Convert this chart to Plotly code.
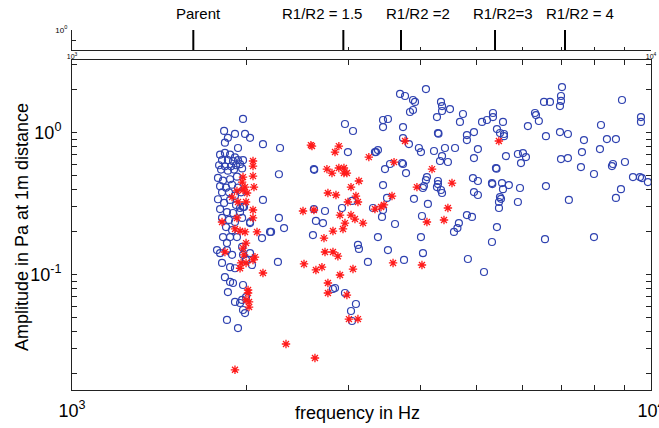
import math
import plotly.graph_objects as go

# ---------------- data ----------------
blue_freq = [
    1974, 1831, 1912, 1990, 2030, 2137, 1859, 1837, 1935,
    1802, 1837, 1875, 1912, 1816, 1859, 1897, 1935, 1795, 1837, 1882, 1920, 1809, 1859, 1905, 1951, 1974,
    1967, 1787, 1823, 1875, 1927, 1802, 1845, 1890, 1935, 1816, 1867, 1912, 1959,
    1787, 1831, 1875, 1920, 1982, 1802, 1852, 1897, 1951, 1816, 1867, 1912, 1967, 2030, 1845, 1890, 1974, 1951,
    2137, 2030, 2129, 2198, 1823, 1875, 1927, 1852, 1780, 1802, 1852, 1890, 1967, 1974, 2030, 1816, 1875, 1912,
    2046, 1998, 1837, 1875, 1897, 1974, 1859, 1998, 1967, 1912, 1951, 1974, 1990, 1852, 1935,
    2287, 2277, 2277, 2207, 2324, 2268, 2617, 2620, 2617, 2735, 2638, 2713, 2607, 2961, 3057, 2996, 3336, 2926,
    3045, 3310, 3118, 3130, 3244, 2823, 2846, 2961, 3093, 3033, 3045,
    4086, 3686, 3760, 3881, 3912, 3835, 3881, 4338, 4356, 4356, 4496, 4269, 4734, 4678, 3445, 3513, 3445, 3730,
    4286, 4295, 4809, 4809, 3730, 3819, 3973, 4006, 4219, 4407, 4587, 3376, 3350, 4356, 4321, 4459, 3716, 3730,
    3542, 3472, 3775, 4102, 4086, 4053, 4037, 4286, 4286, 4269, 4338, 4356, 3445, 3500, 3896, 4118, 3445, 3431,
    4022, 3613, 4809, 4658, 4631, 4568, 3376, 4006, 3513, 4038, 3745, 4828,
    5334, 5334, 5208, 5107, 5551, 5419, 5485, 5573, 5573, 4946, 5024, 4946, 5617, 5398, 5410, 4926, 5024, 5313,
    5320, 5529, 5682, 5551, 4946, 5024, 5485, 5507, 5463, 5463, 5939, 5890, 4907, 5419, 5313, 5147, 6304, 6330,
    6129, 6402, 6585, 6534, 6691, 5890, 6010, 6082, 5963, 6585, 6560,
    7019, 6991, 6991, 6963, 8910, 9609, 9609, 8196, 6963, 7186, 7660, 8392, 8698, 7599, 8163, 6991, 7186, 7569,
    8562, 8596, 9016, 7971, 9308, 9571, 9647, 9877, 8874, 8698, 7214, 7971,
]
blue_amp = [
    1.25, 1.03, 0.98, 0.98, 0.92, 0.83, 0.92, 0.85, 0.78,
    0.70, 0.72, 0.70, 0.67, 0.64, 0.64, 0.63, 0.64, 0.59, 0.58, 0.58, 0.59, 0.55, 0.54, 0.55, 0.60, 0.64,
    0.56, 0.48, 0.46, 0.47, 0.49, 0.42, 0.41, 0.43, 0.41, 0.38, 0.38, 0.36, 0.38,
    0.34, 0.32, 0.336, 0.31, 0.30, 0.29, 0.276, 0.272, 0.276, 0.251, 0.243, 0.235, 0.251, 0.235, 0.2165, 0.206, 0.30, 0.295,
    0.336, 0.231, 0.181, 0.20, 0.184, 0.184, 0.184, 0.167, 0.149, 0.142, 0.149, 0.138, 0.157, 0.138, 0.142, 0.121, 0.113, 0.111,
    0.117, 0.127, 0.096, 0.089, 0.0874, 0.0846, 0.0755, 0.0696, 0.0664, 0.0643, 0.0632, 0.0564, 0.0537, 0.048, 0.0421,
    0.78, 0.51, 0.251, 0.20, 0.213, 0.123, 0.555, 0.548, 0.29, 0.281, 0.239, 0.231, 0.19, 1.152, 1.028, 0.731, 0.731, 0.295,
    0.331, 0.295, 0.162, 0.152, 0.123, 0.0793, 0.0806, 0.0743, 0.0622, 0.0555, 0.0472,
    2.03, 1.875, 1.813, 1.70, 1.646, 1.399, 1.445, 1.646, 1.541, 1.422, 1.468, 1.289, 1.354, 1.19, 1.229, 1.249, 1.096, 1.096,
    0.995, 0.985, 0.963, 0.888, 0.917, 0.832, 0.78, 0.731, 0.743, 0.78, 0.78, 0.755, 0.731, 0.684, 0.632, 0.622, 0.612, 0.602,
    0.602, 0.554, 0.52, 0.487, 0.464, 0.421, 0.408, 0.457, 0.435, 0.414, 0.395, 0.376, 0.428, 0.347, 0.342, 0.315, 0.2855, 0.255,
    0.259, 0.2275, 0.263, 0.231, 0.213, 0.20, 0.184, 0.184, 0.149, 0.142, 0.127, 0.129,
    1.376, 1.289, 1.229, 1.19, 1.19, 1.061, 0.995, 0.979, 0.946, 1.011, 0.767, 0.663, 0.684, 0.564, 0.558, 0.479, 0.457, 0.442,
    0.435, 0.442, 0.428, 0.40, 0.382, 0.364, 0.352, 0.342, 0.325, 0.295, 0.408, 0.325, 0.255, 0.2165, 0.17, 0.1045, 1.376, 1.33,
    1.114, 1.209, 0.946, 1.646, 1.646, 0.708, 0.719, 0.673, 0.611, 0.421, 0.178,
    2.096, 1.813, 1.673, 1.541, 1.70, 1.289, 1.19, 1.133, 1.011, 0.979, 0.888, 0.902, 0.902, 0.731, 0.767, 0.652, 0.663, 0.573,
    0.582, 0.602, 0.622, 0.512, 0.487, 0.487, 0.479, 0.449, 0.40, 0.347, 0.336, 0.184,
]

red_freq = [
    2054, 2054, 1974, 1967, 2054, 2062, 1990, 1974, 2006, 1927, 1890, 1998, 1935, 2054, 2054, 1927, 1816, 1990, 1951,
    1912, 2087, 1998, 1974, 1837, 1982, 2070, 2054, 1959, 1951, 1998, 2137, 2014, 2014, 1998, 2022, 2022, 1912,
    2586, 2597, 2890, 2846, 3256, 2756, 2812, 2890, 2949, 2949, 2984, 3130, 3033, 2767, 2857, 3093, 2996, 3118, 2506,
    2617, 2903, 3033, 3081, 2961, 3181, 2938, 2823, 2724, 2735, 2823, 2879, 2516, 2638, 2702, 3057, 2903, 2767, 2767,
    2984, 3008, 3118, 2342, 2628,
    3760, 3599, 4186, 3942, 4532, 3570, 3336, 3418, 3458, 4459, 4102, 4390, 3585, 4022, 5461,
]
red_amp = [
    0.632, 0.582, 0.487, 0.449, 0.495, 0.414, 0.414, 0.395, 0.376, 0.389, 0.352, 0.325, 0.325, 0.2855, 0.251, 0.251, 0.235, 0.20, 0.203,
    0.21, 0.20, 0.167, 0.154, 0.1445, 0.138, 0.133, 0.127, 0.121, 0.111, 0.121, 0.1028, 0.078, 0.0743, 0.0664, 0.0643, 0.0592, 0.0214,
    0.818, 0.805, 0.805, 0.731, 0.673, 0.554, 0.52, 0.564, 0.564, 0.52, 0.52, 0.457, 0.414, 0.376, 0.364, 0.358, 0.325, 0.325, 0.281,
    0.2855, 0.263, 0.263, 0.2465, 0.231, 0.231, 0.21, 0.203, 0.181, 0.1445, 0.1445, 0.135, 0.119, 0.108, 0.113, 0.1096, 0.0995, 0.0874, 0.0743,
    0.0719, 0.0487, 0.0487, 0.0325, 0.0259,
    0.874, 0.621, 0.554, 0.414, 0.442, 0.358, 0.29, 0.30, 0.31, 0.295, 0.235, 0.2427, 0.121, 0.117, 0.874,
]

ratio_labels = ["Parent", "R1/R2 = 1.5", "R1/R2 =2", "R1/R2=3", "R1/R2 = 4"]
ratio_freq = [1620, 2942, 3700, 5378, 7104]
label_shift = [5, -21, 17, 8, 15]  # px offset of label centre from marker line

x_tick_vals = [1000, 2000, 3000, 4000, 5000, 6000, 7000, 8000, 9000, 10000]
x_tick_text = ["10<sup>3</sup>", "", "", "", "", "", "", "", "", "10<sup>4</sup>"]
y_tick_vals = [0.02, 0.03, 0.04, 0.05, 0.06, 0.07, 0.08, 0.09, 0.1, 0.2, 0.3, 0.4, 0.5, 0.6, 0.7, 0.8, 0.9, 1, 2, 3]
y_tick_text = ["", "", "", "", "", "", "", "", "10<sup>-1</sup>", "", "", "", "", "", "", "", "", "10<sup>0</sup>", "", ""]

# ---------------- figure ----------------
W, H = 659, 428
FONT = "Liberation Sans, Arial, Helvetica, sans-serif"

fig = go.Figure()

fig.add_trace(go.Scatter(
    x=blue_freq, y=blue_amp, mode="markers", xaxis="x", yaxis="y",
    marker=dict(symbol="circle-open", size=7, color="#2f42b0", line=dict(width=1.2)),
    hoverinfo="x+y",
))
fig.add_trace(go.Scatter(
    x=red_freq, y=red_amp, mode="markers", xaxis="x", yaxis="y",
    marker=dict(symbol="asterisk-open", size=7, color="#ff1a1a", line=dict(width=1.3)),
    hoverinfo="x+y",
))

# marker lines in the top panel
lx, ly = [], []
for f in ratio_freq:
    lx += [f, f, None]
    ly += [0.1, 1, None]
fig.add_trace(go.Scatter(x=lx, y=ly, mode="lines", xaxis="x2", yaxis="y2",
                         line=dict(color="black", width=2), hoverinfo="skip"))

annotations = []
for lab, f, sh in zip(ratio_labels, ratio_freq, label_shift):
    annotations.append(dict(text=lab, xref="x2", yref="paper", x=math.log10(f), y=1 - 14 / H,
                            xshift=sh, showarrow=False, xanchor="center", yanchor="middle",
                            font=dict(size=15, color="black", family=FONT)))
annotations.append(dict(text="frequency in Hz", xref="paper", yref="paper", x=358 / W, y=1 - 413 / H,
                        showarrow=False, xanchor="center", yanchor="middle",
                        font=dict(size=18, color="black", family=FONT)))
annotations.append(dict(text="Amplitude in Pa at 1m distance", xref="paper", yref="paper", x=22 / W, y=1 - 227 / H,
                        showarrow=False, textangle=-90, xanchor="center", yanchor="middle",
                        font=dict(size=18, color="black", family=FONT)))

main_x_dom = [72 / W, 651 / W]
common = dict(showline=True, linecolor="#222", linewidth=1, tickcolor="#222",
              showgrid=False, zeroline=False, automargin=False, ticklabeloverflow="allow")
fig.update_layout(
    width=W, height=H, autosize=False,
    margin=dict(l=0, r=0, t=0, b=0, autoexpand=False),
    paper_bgcolor="white", plot_bgcolor="white",
    showlegend=False,
    font=dict(family=FONT, color="black"),
    annotations=annotations,
    xaxis=dict(domain=main_x_dom, anchor="y", type="log", range=[3, 4],
               mirror="allticks", ticks="inside", ticklen=5,
               tickvals=x_tick_vals, ticktext=x_tick_text,
               tickfont=dict(size=18, family=FONT), ticklabelstandoff=4, **common),
    yaxis=dict(domain=[1 - 390 / H, 1 - 60 / H], anchor="x", type="log",
               range=[-1.812, 0.512], mirror="allticks", ticks="inside", ticklen=5,
               tickvals=y_tick_vals, ticktext=y_tick_text,
               tickfont=dict(size=18, family=FONT), ticklabelstandoff=6, **common),
    xaxis2=dict(domain=main_x_dom, anchor="y2", type="log", range=[3, 4],
                mirror=False, ticks="inside", ticklen=3,
                tickvals=x_tick_vals, ticktext=x_tick_text,
                tickfont=dict(size=7, family=FONT), ticklabelstandoff=0, **common),
    yaxis2=dict(domain=[1 - 50 / H, 1 - 30 / H], anchor="x2", type="log", range=[-1, 0],
                mirror=False, ticks="inside", ticklen=4,
                tickvals=[0.3, 1], ticktext=["", "10<sup>0</sup>"],
                tickfont=dict(size=8, family=FONT), ticklabelstandoff=2, **common),
)

fig.write_html("out.html", config={"displayModeBar": False},
               post_script="document.body.style.margin='0';document.body.style.padding='0';")
